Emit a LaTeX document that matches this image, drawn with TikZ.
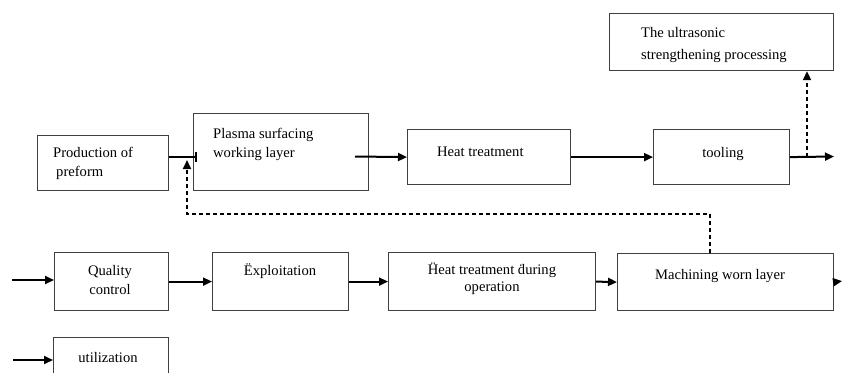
\documentclass[tikz,border=0pt]{standalone}
\usepackage{fontspec}
\setmainfont{Liberation Serif}
\usetikzlibrary{arrows.meta}
\tikzset{
  box/.style={draw=black!75, line width=1.2pt, anchor=north west, inner sep=0pt},
  txt/.style={inner sep=0pt, font=\fontsize{14.6}{19}\selectfont},
  arr/.style={line width=2pt, -{Triangle[length=9pt,width=8pt]}},
  dline/.style={line width=2pt, dash pattern=on 4pt off 3pt}
}
\begin{document}
\begin{tikzpicture}[x=1pt,y=-1pt]
  \useasboundingbox (0,0) rectangle (842,372);

  \node[box, minimum width=131pt, minimum height=55pt] (preform) at (37,135) {};
  \node[box, minimum width=175pt, minimum height=77pt] (plasma) at (193,113) {};
  \node[box, minimum width=163pt, minimum height=55pt] (heat) at (407,129) {};
  \node[box, minimum width=136pt, minimum height=55pt] (tool) at (653,129) {};
  \node[box, minimum width=224pt, minimum height=57pt] (ultra) at (609,13) {};
  \node[box, minimum width=114pt, minimum height=58pt] (qc) at (54,252) {};
  \node[box, minimum width=136pt, minimum height=58pt] (expl) at (212,252) {};
  \node[box, minimum width=207pt, minimum height=58pt] (heatop) at (388,252) {};
  \node[box, minimum width=216pt, minimum height=57pt] (mach) at (617,253) {};
  \node[box, minimum width=115pt, minimum height=58pt] (util) at (53,337) {};

  \node[txt, anchor=north west, align=left] (preform-t) at (53,147) {Production of\\\hspace{3pt}preform};
  \node[txt, anchor=north west, align=left] (plasma-t) at (213,128) {Plasma surfacing\\working layer};
  \node[txt, anchor=north west] (heat-t) at (437,147) {Heat treatment};
  \node[txt, anchor=north] (tool-t) at (723,147) {tooling};
  \node[txt, anchor=north west, align=left, font=\fontsize{14.6}{22}\selectfont] (ultra-t) at (641,27) {The ultrasonic\\strengthening processing};
  \node[txt, anchor=north, align=center] (qc-t) at (110,265) {Quality\\control};
  \node[txt, anchor=north] (expl-t) at (280,263) {\"Exploitation};
  \node[txt, anchor=north, align=center, font=\fontsize{14.6}{17}\selectfont] (heatop-t) at (492,263) {\"Heat treatment \.during\\operation};
  \node[txt, anchor=north] (mach-t) at (720,269) {Machining worn layer};
  \node[txt, anchor=north] (util-t) at (108,352) {utilization};

  \coordinate (pin) at (197,157);
  \coordinate (fb) at (187,160);
  \coordinate (fturn) at (710,214);
  \coordinate (hin) at (355,156.5);
  \coordinate (tout) at (834,156.5);
  \coordinate (tup) at (807,156.5);
  \coordinate (qin) at (12,280);
  \coordinate (mout) at (842,281);
  \coordinate (uin) at (13,360);

  \draw[line width=2pt, -{Bar[width=10pt]}] (pin -| preform.east) -- (pin);
  \draw[dline, -{Triangle[length=9pt,width=8pt]}] (fturn |- mach.north) -- (fturn) -- (fturn -| fb) -- (fb);
  \draw[arr] (hin) -- (heat.west);
  \draw[arr] (heat.east) -- (tool.west);
  \draw[arr] (tool.east) -- (tout);
  \draw[dline, -{Triangle[length=9pt,width=8pt]}] (tup) -- (tup |- ultra.south);
  \draw[arr] (qin) -- (qin -| qc.west);
  \draw[arr] (qc.east) -- (expl.west);
  \draw[arr] (expl.east) -- (heatop.west);
  \draw[arr] (heatop.east) -- (mach.west);
  \draw[arr] (mach.east) -- (mout);
  \draw[arr] (uin) -- (uin -| util.west);
\end{tikzpicture}
\end{document}
